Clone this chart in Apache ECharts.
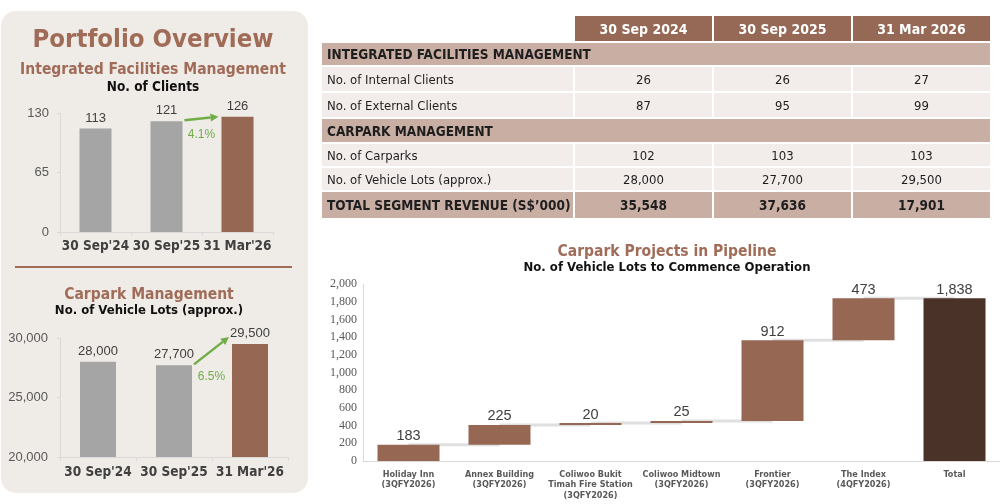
<!DOCTYPE html>
<html>
<head>
<meta charset="utf-8">
<script src="https://cdn.jsdelivr.net/npm/echarts@6/dist/echarts.min.js"></script>
<style>
  html, body { margin: 0; padding: 0; background: #fff; }
  #main { position: absolute; left: 0; top: 0; width: 1000px; height: 504px; }
  #tbl {
    position: absolute; left: 320px; top: 14px;
    border-collapse: separate; border-spacing: 2px;
    font-family: 'Liberation Sans Narrow', 'DejaVu Sans Condensed', 'Liberation Sans', sans-serif;
    font-size: 13px; color: #1e1e1e; white-space: nowrap;
  }
  #tbl td { padding: 0; }
  #tbl td.lbl { width: 246px; padding-left: 5px; }
  #tbl td.val { width: 137px; text-align: center; }
  #tbl tr.head td.val { background: #966856; color: #fff; font-weight: bold; font-size: 14px; }
  #tbl tr.sec td { background: #c9aea4; font-weight: bold; padding-left: 5px; font-size: 13.5px; }
  #tbl tr.row td { background: #f2ecea; }
  #tbl tr.tot td { background: #c9aea4; font-weight: bold; font-size: 13.5px; }
</style>
</head>
<body>
<div id="main"></div>
<table id="tbl"></table>
<script>
// left panel charts
const clientDates = ["30 Sep'24", "30 Sep'25", "31 Mar'26"];
const clientCounts = [113, 121, 126];
const lotCounts = [28000, 27700, 29500];

// table
const tableDates = ["30 Sep 2024", "30 Sep 2025", "31 Mar 2026"];
const internalClients = [26, 26, 27];
const externalClients = [87, 95, 99];
const carparkCounts = [102, 103, 103];
const vehicleLots = [28000, 27700, 29500];
const segmentRevenue = [35548, 37636, 17901];

// waterfall
const pipelineProjects = [
  "Holiday Inn\n(3QFY2026)",
  "Annex Building\n(3QFY2026)",
  "Coliwoo Bukit\nTimah Fire Station\n(3QFY2026)",
  "Coliwoo Midtown\n(3QFY2026)",
  "Frontier\n(3QFY2026)",
  "The Index\n(4QFY2026)",
  "Total"
];
const pipelineLots = [183, 225, 20, 25, 912, 473];

const BROWN = "#966753";
const GREY = "#a5a5a5";
const DARK = "#4b3228";
const TITLE = "#a06c58";
const GREEN = "#70ad47";
const NARROW = "'Liberation Sans Narrow', 'DejaVu Sans Condensed', 'Liberation Sans', sans-serif";
const ARIAL = "'Liberation Sans', Arial, sans-serif";

function fmt(v) {
  return Number(v).toLocaleString("en-US");
}

// ---- table ----
function buildTable() {
  let t = document.getElementById("tbl");
  let html = '<tr class="head" style="height:25px"><td></td>';
  tableDates.forEach(d => { html += '<td class="val">' + d + "</td>"; });
  html += "</tr>";
  let sec = (name, h) => '<tr class="sec" style="height:' + h + 'px"><td colspan="4">' + name + "</td></tr>";
  let row = (cls, name, arr, h) => {
    let s = '<tr class="' + cls + '" style="height:' + h + 'px"><td class="lbl">' + name + "</td>";
    arr.forEach(v => { s += '<td class="val">' + fmt(v) + "</td>"; });
    return s + "</tr>";
  };
  html += sec("INTEGRATED FACILITIES MANAGEMENT", 22);
  html += row("row", "No. of Internal Clients", internalClients, 24);
  html += row("row", "No. of External Clients", externalClients, 24);
  html += sec("CARPARK MANAGEMENT", 23);
  html += row("row", "No. of Carparks", carparkCounts, 22);
  html += row("row", "No. of Vehicle Lots (approx.)", vehicleLots, 22);
  html += row("tot", "TOTAL SEGMENT REVENUE (S$\u2019000)", segmentRevenue, 26);
  t.innerHTML = html;
}
buildTable();

// ---- waterfall helpers ----
let bases = [];
let cum = [];
let run = 0;
pipelineLots.forEach(v => {
  bases.push(run);
  run += v;
  cum.push(run);
});
const pipelineTotal = run;
bases.push(0);
let wfValues = pipelineLots.concat([pipelineTotal]);

function txt(text, x, y, size, color) {
  return {
    type: "text", x: x, y: y, z: 5,
    style: {
      text: text, fill: color, fontSize: size, fontWeight: "bold",
      fontFamily: NARROW, textAlign: "center", textVerticalAlign: "middle"
    }
  };
}

let baseGraphics = [
  { type: "rect", z: -10, shape: { x: 1, y: 11, width: 307, height: 482, r: 15 }, style: { fill: "#efebe7" } },
  txt("Portfolio Overview", 153, 40, 25.5, TITLE),
  txt("Integrated Facilities Management", 153, 70, 15.5, TITLE),
  txt("No. of Clients", 153, 87, 13.5, "#111"),
  { type: "line", shape: { x1: 15, y1: 267, x2: 292, y2: 267 }, style: { stroke: TITLE, lineWidth: 2 } },
  txt("Carpark Management", 149, 295, 15.5, TITLE),
  txt("No. of Vehicle Lots (approx.)", 149, 311, 13, "#111"),
  txt("Carpark Projects in Pipeline", 667, 252, 15.5, TITLE),
  txt("No. of Vehicle Lots to Commence Operation", 667, 268, 13, "#111")
];

function catAxis(grid, data, labelOpts, ticks) {
  return {
    type: "category", gridIndex: grid, data: data,
    axisLine: { lineStyle: { color: "#d9d9d9", width: 1 } },
    axisTick: { show: ticks, length: 4, lineStyle: { color: "#d9d9d9" } },
    axisLabel: Object.assign({ interval: 0 }, labelOpts)
  };
}

function valAxis(grid, min, max, step, labelOpts, ticks) {
  return {
    type: "value", gridIndex: grid, min: min, max: max, interval: step,
    splitLine: { show: false },
    axisLine: { show: true, lineStyle: { color: "#d9d9d9", width: 1 } },
    axisTick: { show: ticks, length: 3, lineStyle: { color: "#d9d9d9" } },
    axisLabel: Object.assign({ formatter: v => fmt(v) }, labelOpts)
  };
}

let option = {
  animation: false,
  graphic: baseGraphics,
  grid: [
    { left: 60, top: 113, width: 213, height: 119 },
    { left: 60, top: 338, width: 228, height: 119 },
    { left: 363, top: 284, width: 640, height: 177 }
  ],
  xAxis: [
    catAxis(0, clientDates, { fontSize: 13.5, fontWeight: "bold", color: "#404040", fontFamily: NARROW, margin: 7 }, true),
    catAxis(1, clientDates, { fontSize: 13.5, fontWeight: "bold", color: "#404040", fontFamily: NARROW, margin: 8 }, true),
    catAxis(2, pipelineProjects, { fontSize: 9, fontWeight: "bold", color: "#595959", fontFamily: NARROW, lineHeight: 10.5, margin: 8 }, false)
  ],
  yAxis: [
    valAxis(0, 0, 130, 65, { fontSize: 13, color: "#595959", fontFamily: ARIAL, margin: 11 }, true),
    valAxis(1, 20000, 30000, 5000, { fontSize: 13, color: "#595959", fontFamily: ARIAL, margin: 12 }, true),
    valAxis(2, 0, 2000, 200, { fontSize: 12, color: "#595959", fontFamily: "'Liberation Serif', serif", margin: 6 }, false)
  ],
  series: [
    {
      type: "bar", xAxisIndex: 0, yAxisIndex: 0, barWidth: 32,
      data: clientCounts.map((v, i) => ({ value: v, itemStyle: { color: i === 2 ? BROWN : GREY } })),
      label: { show: true, position: "top", fontSize: 13, color: "#404040", fontFamily: ARIAL, distance: 4 }
    },
    {
      type: "bar", xAxisIndex: 1, yAxisIndex: 1, barWidth: 36,
      data: lotCounts.map((v, i) => ({ value: v, itemStyle: { color: i === 2 ? BROWN : GREY } })),
      label: { show: true, position: "top", fontSize: 13, color: "#404040", fontFamily: ARIAL, distance: 4, formatter: p => fmt(p.value) }
    },
    {
      type: "custom", xAxisIndex: 2, yAxisIndex: 2, z: 1,
      data: cum.map((v, i) => [i, v]),
      renderItem: function (params, api) {
        let i = api.value(0);
        let lvl = api.value(1);
        let a = api.coord([i, lvl]);
        let b = api.coord([i + 1, lvl]);
        return {
          type: "line",
          shape: { x1: a[0], y1: a[1], x2: b[0], y2: b[1] },
          style: { stroke: "#e0e0e0", lineWidth: 3 }
        };
      }
    },
    {
      type: "bar", xAxisIndex: 2, yAxisIndex: 2, stack: "wf", barWidth: 62, z: 2,
      itemStyle: { color: "transparent" },
      data: bases
    },
    {
      type: "bar", xAxisIndex: 2, yAxisIndex: 2, stack: "wf", barWidth: 62, z: 2,
      data: wfValues.map((v, i) => ({ value: v, itemStyle: { color: i === wfValues.length - 1 ? DARK : BROWN } })),
      label: { show: true, position: "top", fontSize: 14.5, color: "#404040", fontFamily: ARIAL, distance: 1, formatter: p => fmt(p.value) }
    }
  ]
};

let chart = echarts.init(document.getElementById("main"));
chart.setOption(option);

// growth arrows between last two bars of each left chart
function arrow(grid, values, barW, endLift, labelDrop) {
  let p1 = chart.convertToPixel({ xAxisIndex: grid, yAxisIndex: grid }, [1, values[1]]);
  let p2 = chart.convertToPixel({ xAxisIndex: grid, yAxisIndex: grid }, [2, values[2]]);
  let sx = p1[0] + barW / 2 + 2, sy = p1[1] - 1;
  let ex = p2[0] - barW / 2 - 3, ey = p2[1] - endLift;
  let dx = ex - sx, dy = ey - sy;
  let len = Math.sqrt(dx * dx + dy * dy);
  let ux = dx / len, uy = dy / len;
  let head = 8, hw = 4;
  let bx = ex - ux * head, by = ey - uy * head;
  let pct = ((values[2] / values[1] - 1) * 100).toFixed(1) + "%";
  return [
    { type: "line", z: 6, shape: { x1: sx, y1: sy, x2: bx, y2: by }, style: { stroke: GREEN, lineWidth: 2.5 } },
    { type: "polygon", z: 6, shape: { points: [[ex, ey], [bx - uy * hw, by + ux * hw], [bx + uy * hw, by - ux * hw]] }, style: { fill: GREEN } },
    {
      type: "text", z: 6, x: (sx + ex) / 2, y: sy + labelDrop,
      style: { text: pct, fill: GREEN, fontSize: 12, fontFamily: ARIAL, textAlign: "center", textVerticalAlign: "middle" }
    }
  ];
}

let arrows = arrow(0, clientCounts, 32, 0, 14).concat(arrow(1, lotCounts, 36, 7, 12));
chart.setOption({ graphic: baseGraphics.concat(arrows) });
</script>
</body>
</html>
